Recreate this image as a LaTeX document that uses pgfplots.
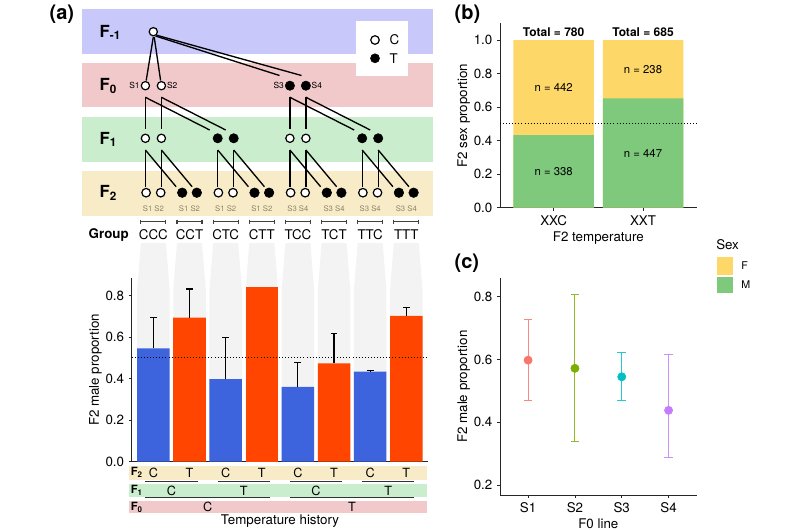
\documentclass[border=0pt]{standalone}
\usepackage{pgfplots}
\pgfplotsset{compat=1.18}
\usepackage{fontspec}
\setmainfont{TeX Gyre Heros}
\definecolor{bandA}{HTML}{C8C8FA}
\definecolor{bandB}{HTML}{F1C9CB}
\definecolor{bandC}{HTML}{CAEECD}
\definecolor{bandD}{HTML}{F8ECC8}
\definecolor{stripe}{HTML}{F3F3F3}
\definecolor{barblue}{HTML}{3D63DD}
\definecolor{barred}{HTML}{FF4500}
\definecolor{sexF}{HTML}{FDD768}
\definecolor{sexM}{HTML}{7EC97B}
\definecolor{sA}{HTML}{F8766D}
\definecolor{sB}{HTML}{7CAE00}
\definecolor{sC}{HTML}{00BFC4}
\definecolor{sD}{HTML}{C77CFF}
\definecolor{slab}{HTML}{8C8465}
\newcommand{\fs}[1]{\fontsize{#1}{#1}\selectfont}
\pgfplotsset{
  gg/.style={
    scale only axis,
    axis x line*=bottom, axis y line*=left,
    axis line style={line width=0.6pt, black!85, -},
    tick align=outside, major tick length=2.2pt,
    tick style={black!85, line width=0.6pt},
    tick label style={font=\fs{10}},
    label style={font=\fs{10}},
    ylabel shift=-4pt, xlabel shift=-2.5pt,
    /pgf/number format/assume math mode=true,
    yticklabel style={/pgf/number format/.cd, fixed, fixed zerofill, precision=1},
  }
}
\begin{document}
\begin{tikzpicture}
\useasboundingbox (0,0) rectangle (600pt,-397.5pt);
% ---------------- background / diagram layer (pixel coordinates) -------------
\begin{axis}[at={(0,0)}, anchor=north west, scale only axis, width=600pt, height=397.5pt,
  xmin=0, xmax=800, ymin=0, ymax=530, y dir=reverse, hide axis, clip=false]
% bands
\addplot[fill=bandA, draw=none] coordinates {(81.7,9.3) (433.3,9.3) (433.3,54) (81.7,54)} -- cycle;
\addplot[fill=bandB, draw=none] coordinates {(81.7,63.3) (433.3,63.3) (433.3,107.3) (81.7,107.3)} -- cycle;
\addplot[fill=bandC, draw=none] coordinates {(81.7,116.7) (433.3,116.7) (433.3,161.7) (81.7,161.7)} -- cycle;
\addplot[fill=bandD, draw=none] coordinates {(81.7,170.7) (433.3,170.7) (433.3,216) (81.7,216)} -- cycle;
% stripes
\pgfplotsinvokeforeach{153.4,189.5,225.7,261.8,297.9,334.1,370.2,406.3}{
  \fill[stripe] ({#1-12.5},243) -- ({#1+12.5},243) -- ({#1+16.25},290) -- ({#1+16.25},461.7) -- ({#1-16.25},461.7) -- ({#1-16.25},290) -- cycle;
}
% legend box
\addplot[fill=white, draw=none] coordinates {(356,20.7) (408.3,20.7) (408.3,76) (356,76)} -- cycle;
\addplot[only marks, mark=*, mark size=3.2pt, mark options={fill=white, draw=black, line width=0.9pt}] coordinates {(375,40)};
\addplot[only marks, mark=*, mark size=3.4pt, mark options={fill=black, draw=black}] coordinates {(375,58.3)};
\node[anchor=west, font=\fs{10}] at (385,40) {C};
\node[anchor=west, font=\fs{10}] at (385,58.3) {T};
% band labels
\node[anchor=west, font=\fs{12.5}\bfseries] at (95,32.5) {F\textsubscript{-1}};
\node[anchor=west, font=\fs{12.5}\bfseries] at (95,86) {F\textsubscript{0}};
\node[anchor=west, font=\fs{12.5}\bfseries] at (95,139.5) {F\textsubscript{1}};
\node[anchor=west, font=\fs{12.5}\bfseries] at (95,193) {F\textsubscript{2}};
% tree lines
\begin{scope}[line width=1pt, black]
\draw (153.3,37) -- (146.2,80.5);
\draw (154.2,37) -- (160.6,80.5);
\draw (155.5,36) -- (279.5,75.5);
\draw (156.5,35.2) -- (301.5,75.5);
\pgfplotsinvokeforeach{145.4,161.4,289.9,305.9}{
  \draw (#1,96.7) -- (#1,129);
  \draw (#1,97.3) -- ({#1+64.3},130);
}
\pgfplotsinvokeforeach{145.4,161.4,217.7,233.7,289.9,305.9,362.2,378.2}{
  \draw (#1,150) -- (#1,186.7);
  \draw (#1,150) -- ({#1+30.7},186.7);
}
\end{scope}
% circles
\addplot[only marks, mark=*, mark size=3.1pt, mark options={fill=white, draw=black, line width=0.9pt}]
  coordinates {(153.3,31.7) (145.4,85.7) (161.4,85.7) (145.4,138.3) (161.4,138.3) (289.9,138.3) (305.9,138.3)};
\addplot[only marks, mark=*, mark size=3.5pt, mark options={fill=black, draw=black}]
  coordinates {(289.9,85.7) (305.9,85.7) (217.7,138.3) (233.7,138.3) (362.2,138.3) (378.2,138.3)};
\addplot[only marks, mark=*, mark size=3.2pt, mark options={fill=white, draw=black, line width=0.9pt}]
  coordinates {(146.1,192.7) (160.7,192.7) (218.4,192.7) (233.0,192.7) (290.6,192.7) (305.2,192.7) (362.9,192.7) (377.5,192.7)};
\addplot[only marks, mark=*, mark size=3.6pt, mark options={fill=black, draw=black}]
  coordinates {(182.2,192.7) (196.8,192.7) (254.5,192.7) (269.1,192.7) (326.8,192.7) (341.4,192.7) (398.9,192.7) (413.6,192.7)};
\node[font=\fs{9}\bfseries, text=white, inner sep=0pt] at (269.1,194.2) {*};
% small S labels
\node[anchor=east, font=\fs{6.3}, inner sep=0.5pt] at (140.5,85.7) {S1};
\node[anchor=west, font=\fs{6.3}, inner sep=0.5pt] at (166.2,85.7) {S2};
\node[anchor=east, font=\fs{6.3}, inner sep=0.5pt] at (284.8,85.7) {S3};
\node[anchor=west, font=\fs{6.3}, inner sep=0.5pt] at (310.8,85.7) {S4};
\pgfplotsinvokeforeach{153.4,189.5,225.7,261.8}{
  \node[font=\fs{5.8}, text=slab] at (#1,208.3) {S1 S2};
}
\pgfplotsinvokeforeach{297.9,334.1,370.2,406.3}{
  \node[font=\fs{5.8}, text=slab] at (#1,208.3) {S3 S4};
}
% brackets
\pgfplotsinvokeforeach{153.4,189.5,225.7,261.8,297.9,334.1,370.2,406.3}{
  \draw[black!75, line width=0.8pt] ({#1-12.5},219.5) -- ({#1-12.5},223.9) ({#1-12.5},221.7) -- ({#1+12.5},221.7) ({#1+12.5},219.5) -- ({#1+12.5},223.9);
}
% group labels
\node[anchor=west, font=\fs{10}\bfseries] at (84,235) {Group};
\node[font=\fs{10}] at (153.4,235) {CCC};
\node[font=\fs{10}] at (189.5,235) {CCT};
\node[font=\fs{10}] at (225.7,235) {CTC};
\node[font=\fs{10}] at (261.8,235) {CTT};
\node[font=\fs{10}] at (297.9,235) {TCC};
\node[font=\fs{10}] at (334.1,235) {TCT};
\node[font=\fs{10}] at (370.2,235) {TTC};
\node[font=\fs{10}] at (406.3,235) {TTT};
% bottom annotation rows
\addplot[fill=bandD, draw=none] coordinates {(129,465.7) (427,465.7) (427,480) (129,480)} -- cycle;
\addplot[fill=bandC, draw=none] coordinates {(129,484.3) (427,484.3) (427,496.7) (129,496.7)} -- cycle;
\addplot[fill=bandB, draw=none] coordinates {(129,500.7) (427,500.7) (427,513.3) (129,513.3)} -- cycle;
\node[anchor=west, font=\fs{8.5}\bfseries, inner sep=0pt] at (130.5,472.8) {F\textsubscript{2}};
\node[anchor=west, font=\fs{8.5}\bfseries, inner sep=0pt] at (130.5,490.5) {F\textsubscript{1}};
\node[anchor=west, font=\fs{8.5}\bfseries, inner sep=0pt] at (130.5,507) {F\textsubscript{0}};
\node[font=\fs{9.5}] at (153.4,473.3) {C};
\node[font=\fs{9.5}] at (189.5,473.3) {T};
\node[font=\fs{9.5}] at (225.7,473.3) {C};
\node[font=\fs{9.5}] at (261.8,473.3) {T};
\node[font=\fs{9.5}] at (297.9,473.3) {C};
\node[font=\fs{9.5}] at (334.1,473.3) {T};
\node[font=\fs{9.5}] at (370.2,473.3) {C};
\node[font=\fs{9.5}] at (406.3,473.3) {T};
\node[font=\fs{9.5}] at (171.5,491) {C};
\node[font=\fs{9.5}] at (243.8,491) {T};
\node[font=\fs{9.5}] at (316,491) {C};
\node[font=\fs{9.5}] at (388.3,491) {T};
\node[font=\fs{9.5}] at (207.6,507) {C};
\node[font=\fs{9.5}] at (352.1,507) {T};
\begin{scope}[line width=0.7pt, black!80]
\draw (145.4,481) -- (197.5,481);
\draw (217.7,481) -- (269.8,481);
\draw (289.9,481) -- (342.1,481);
\draw (362.2,481) -- (414.3,481);
\draw (145.4,497.8) -- (269.8,497.8);
\draw (289.9,497.8) -- (414.3,497.8);
\end{scope}
\node[font=\fs{10}] at (280,521.5) {Temperature history};
% panel labels
\node[anchor=west, font=\fs{15}\bfseries] at (45,14) {(a)};
\node[anchor=west, font=\fs{15}\bfseries] at (450,14) {(b)};
\node[anchor=west, font=\fs{15}\bfseries] at (450,263) {(c)};
% Sex legend
\node[anchor=west, font=\fs{10}, inner sep=0pt] at (716,245) {Sex};
\addplot[fill=sexF, draw=none] coordinates {(716.7,257.3) (733.3,257.3) (733.3,275) (716.7,275)} -- cycle;
\addplot[fill=sexM, draw=none] coordinates {(716.7,276.7) (733.3,276.7) (733.3,293.3) (716.7,293.3)} -- cycle;
\node[anchor=west, font=\fs{8}, inner sep=0pt] at (741,266) {F};
\node[anchor=west, font=\fs{8}, inner sep=0pt] at (741,285) {M};
\end{axis}
% ---------------- panel (a) bar chart ----------------
\begin{axis}[gg, at={(131.7*0.75pt,-461.7*0.75pt)}, anchor=south west,
  width=222.2pt, height=137.8pt,
  xmin=0.4, xmax=8.6, ymin=0, ymax=0.885,
  xtick=\empty, ytick={0,0.2,0.4,0.6,0.8},
  ylabel={F2 male proportion}]
\addplot[ybar, bar width=0.9, bar shift=0pt, fill=barblue, draw=none,
  error bars/.cd, y dir=plus, y explicit,
  error bar style={black, line width=0.9pt},
  error mark options={rotate=90, mark size=2.6pt, black, line width=0.9pt}]
  coordinates {(1,0.546) +- (0,0.150) (3,0.398) +- (0,0.201) (5,0.361) +- (0,0.116) (7,0.434) +- (0,0.005)};
\addplot[ybar, bar width=0.9, bar shift=0pt, fill=barred, draw=none,
  error bars/.cd, y dir=plus, y explicit,
  error bar style={black, line width=0.9pt},
  error mark options={rotate=90, mark size=2.6pt, black, line width=0.9pt}]
  coordinates {(2,0.694) +- (0,0.138) (6,0.474) +- (0,0.144) (8,0.702) +- (0,0.042)};
\addplot[ybar, bar width=0.9, bar shift=0pt, fill=barred, draw=none] coordinates {(4,0.842)};
\addplot[black, line width=0.7pt, dash pattern=on 0.7pt off 1.6pt] coordinates {(0.4,0.5) (8.6,0.5)};
\end{axis}
% ---------------- panel (b) ----------------
\begin{axis}[gg, at={(500*0.75pt,-207.7*0.75pt)}, anchor=south west,
  width=147.5pt, height=138.3pt,
  xmin=0.4, xmax=2.6, ymin=0, ymax=1.1,
  xtick={1,2}, xticklabels={XXC,XXT}, ytick={0,0.2,0.4,0.6,0.8,1.0},
  ylabel={F2 sex proportion}, xlabel={F2 temperature}, clip=false]
\addplot[ybar, bar width=0.9, bar shift=0pt, fill=sexF, draw=none] coordinates {(1,1) (2,1)};
\addplot[ybar, bar width=0.9, bar shift=0pt, fill=sexM, draw=none] coordinates {(1,0.4333) (2,0.6526)};
\addplot[black, line width=0.7pt, dash pattern=on 0.7pt off 1.6pt] coordinates {(0.4,0.5) (2.6,0.5)};
\node[font=\fs{8.5}] at (axis cs:1,0.7167) {n = 442};
\node[font=\fs{8.5}] at (axis cs:1,0.2167) {n = 338};
\node[font=\fs{8.5}] at (axis cs:2,0.8263) {n = 238};
\node[font=\fs{8.5}] at (axis cs:2,0.3263) {n = 447};
\node[font=\fs{9}\bfseries] at (axis cs:1,1.047) {Total = 780};
\node[font=\fs{9}\bfseries] at (axis cs:2,1.047) {Total = 685};
\end{axis}
% ---------------- panel (c) ----------------
\begin{axis}[gg, at={(500*0.75pt,-495*0.75pt)}, anchor=south west,
  width=147.5pt, height=162.5pt,
  xmin=0.4, xmax=4.6, ymin=0.168, ymax=0.859,
  xtick={1,2,3,4}, xticklabels={S1,S2,S3,S4}, ytick={0.2,0.4,0.6,0.8},
  ylabel={F2 male proportion}, xlabel={F0 line}]
\addplot[only marks, mark=*, color=sA, mark size=3.1pt,
  error bars/.cd, y dir=both, y explicit,
  error bar style={sA!85, line width=0.8pt},
  error mark options={rotate=90, mark size=3.3pt, sA!85, line width=0.8pt}]
  coordinates {(1,0.598) += (0,0.130) -= (0,0.129)};
\addplot[only marks, mark=*, color=sB, mark size=3.1pt,
  error bars/.cd, y dir=both, y explicit,
  error bar style={sB!85, line width=0.8pt},
  error mark options={rotate=90, mark size=3.3pt, sB!85, line width=0.8pt}]
  coordinates {(2,0.572) += (0,0.235) -= (0,0.234)};
\addplot[only marks, mark=*, color=sC, mark size=3.1pt,
  error bars/.cd, y dir=both, y explicit,
  error bar style={sC!85, line width=0.8pt},
  error mark options={rotate=90, mark size=3.3pt, sC!85, line width=0.8pt}]
  coordinates {(3,0.545) += (0,0.078) -= (0,0.076)};
\addplot[only marks, mark=*, color=sD, mark size=3.1pt,
  error bars/.cd, y dir=both, y explicit,
  error bar style={sD!85, line width=0.8pt},
  error mark options={rotate=90, mark size=3.3pt, sD!85, line width=0.8pt}]
  coordinates {(4,0.438) += (0,0.177) -= (0,0.150)};
\end{axis}
\end{tikzpicture}
\end{document}
